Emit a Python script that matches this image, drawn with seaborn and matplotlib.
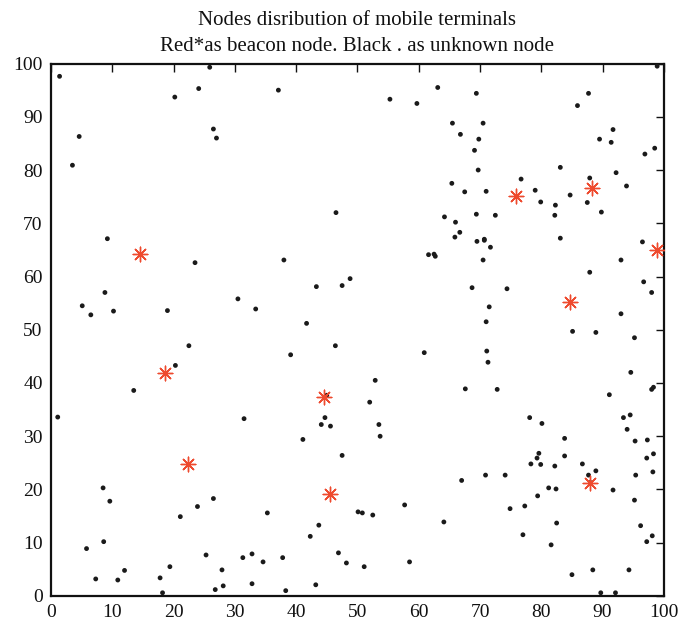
import matplotlib
matplotlib.use("Agg")
import matplotlib.pyplot as plt
import seaborn as sns
import pandas as pd

# Unknown nodes (black dots)
unknown_x = [1.4, 25.9, 24.1, 20.2, 26.5, 27.0, 4.6, 3.5, 9.2,
             37.1, 55.3, 59.7, 63.1, 65.5, 65.4, 46.5, 64.2,
             98.9, 69.4, 87.7, 85.9, 70.5, 66.8, 69.8, 69.1, 91.7, 89.5, 91.4, 98.5, 96.9,
             69.7, 83.1, 76.7, 87.9, 92.2, 93.9, 67.5, 71.0, 79.0, 79.9, 82.3, 84.7, 87.5,
             89.8, 82.2, 69.4, 72.5, 66.0, 66.7, 65.9, 70.7, 83.1, 69.5, 70.7, 71.7, 96.5,
             70.5, 93.0, 87.9, 68.7, 74.4, 96.7, 98.0, 71.5, 71.0, 93.0, 85.1, 88.9, 95.2,
             71.1, 71.3, 94.6, 67.6, 72.8, 91.1, 98.0, 98.3, 94.5,
             78.1, 80.1, 93.4, 94.0, 83.8, 95.3, 97.3, 79.6, 79.3, 83.8, 78.3, 79.9, 82.2,
             86.7, 97.2, 98.3, 98.2, 95.4, 87.7, 88.9, 88.0, 67.0, 70.9, 74.1, 81.2, 82.4,
             79.4, 91.7, 95.2, 74.9, 77.3, 82.5, 96.2, 98.1, 97.2, 77.0, 81.6, 85.0, 88.4,
             94.3, 89.7, 92.1,
             44.7, 44.1, 45.6, 53.5, 53.7, 41.1, 47.5, 35.3, 50.1, 50.8, 52.5, 57.7, 64.1,
             43.7, 42.3, 32.8, 37.8, 34.6, 46.9, 48.2, 51.1, 58.5, 32.8, 43.2, 38.3,
             1.1, 31.5, 8.5, 9.6, 26.5, 23.9, 21.1, 5.8, 8.6, 25.3, 31.3, 12.0, 7.3, 10.9,
             17.8, 19.4, 27.9, 28.1, 26.8, 18.2,
             23.5, 8.8, 5.1, 6.5, 10.2, 19.0, 30.5, 22.5, 20.3, 13.5,
             38.0, 61.6, 62.5, 62.7, 48.8, 47.5, 43.3, 33.4, 41.7, 46.4, 39.1, 60.9, 52.9,
             45.0, 52.0]
unknown_y = [97.6, 99.3, 95.3, 93.7, 87.7, 86.0, 86.3, 80.9, 67.1,
             95.0, 93.3, 92.5, 95.5, 88.8, 77.5, 72.0, 71.2,
             99.5, 94.4, 94.4, 92.1, 88.8, 86.7, 85.8, 83.7, 87.6, 85.8, 85.2, 84.1, 83.0,
             80.0, 80.5, 78.3, 78.5, 79.5, 77.0, 75.9, 76.0, 76.2, 74.0, 73.4, 75.3, 73.9,
             72.1, 71.5, 71.7, 71.5, 70.2, 68.3, 67.4, 67.0, 67.2, 66.6, 66.8, 65.5, 66.5,
             63.1, 63.1, 60.8, 57.9, 57.7, 59.0, 57.0, 54.3, 51.5, 53.0, 49.7, 49.5, 48.5,
             46.0, 43.9, 42.0, 38.9, 38.8, 37.8, 38.8, 39.2, 34.0,
             33.5, 32.4, 33.5, 31.3, 29.6, 29.1, 29.3, 26.8, 25.9, 26.3, 24.8, 24.7, 24.4,
             24.8, 25.9, 26.7, 23.3, 22.7, 22.7, 23.5, 21.3, 21.7, 22.7, 22.7, 20.3, 20.1,
             18.8, 19.9, 18.0, 16.4, 16.9, 13.7, 13.2, 11.3, 10.2, 11.5, 9.6, 4.0, 4.9,
             4.9, 0.6, 0.6,
             33.5, 32.2, 31.9, 32.2, 30.0, 29.4, 26.4, 15.6, 15.8, 15.6, 15.2, 17.1, 13.9,
             13.3, 11.2, 7.9, 7.2, 6.4, 8.1, 6.2, 5.5, 6.4, 2.3, 2.1, 1.0,
             33.6, 33.3, 20.3, 17.8, 18.3, 16.8, 14.9, 8.9, 10.2, 7.7, 7.2, 4.8, 3.2, 3.0,
             3.4, 5.5, 4.9, 1.9, 1.2, 0.6,
             62.6, 57.0, 54.5, 52.8, 53.5, 53.6, 55.8, 47.0, 43.3, 38.6,
             63.1, 64.1, 64.2, 63.8, 59.6, 58.3, 58.1, 53.9, 51.2, 47.0, 45.3, 45.7, 40.5,
             37.7, 36.4]

# Beacon nodes (red asterisks)
beacon_x = [14.5, 18.6, 22.3, 44.5, 45.5, 75.9, 88.3, 98.8, 84.7, 88.0]
beacon_y = [64.3, 41.8, 24.8, 37.3, 19.1, 75.2, 76.7, 65.0, 55.2, 21.3]

x_ticks = [0, 10, 20, 30, 40, 50, 60, 70, 80, 90, 100]
y_ticks = [0, 10, 20, 30, 40, 50, 60, 70, 80, 90, 100]

title_lines = ["Nodes disribution of mobile terminals",
               "Red*as beacon node. Black . as unknown node"]

sns.set_style("white")
plt.rcParams['font.family'] = ['Liberation Serif', 'DejaVu Serif']

df_u = pd.DataFrame({"x": unknown_x, "y": unknown_y})
df_b = pd.DataFrame({"x": beacon_x, "y": beacon_y})

fig = plt.figure(figsize=(6.78, 6.29), dpi=100)
ax = fig.add_axes([0.0752, 0.0525, 0.904, 0.8465])

sns.scatterplot(data=df_u, x="x", y="y", ax=ax, color="#1a1a1a", s=12,
                marker="o", edgecolor="none", zorder=3)
sns.scatterplot(data=df_b, x="x", y="y", ax=ax, color="#EE4A2E", s=110,
                marker=(8, 2, 0), linewidth=1.0, zorder=4)

ax.set_xlim(0, 100)
ax.set_ylim(0, 100)
ax.set_xticks(x_ticks)
ax.set_yticks(y_ticks)
ax.set_xlabel("")
ax.set_ylabel("")
ax.tick_params(direction="in", length=5.5, width=1.0, top=True, right=True,
               labelsize=14, colors="#111111", pad=6)
for sp in ax.spines.values():
    sp.set_visible(True)
    sp.set_linewidth(1.6)
    sp.set_color("#111111")

ax.set_title("\n".join(title_lines), fontsize=15, color="#111111",
             linespacing=1.5, pad=9)

fig.savefig("out.png", dpi=100)
